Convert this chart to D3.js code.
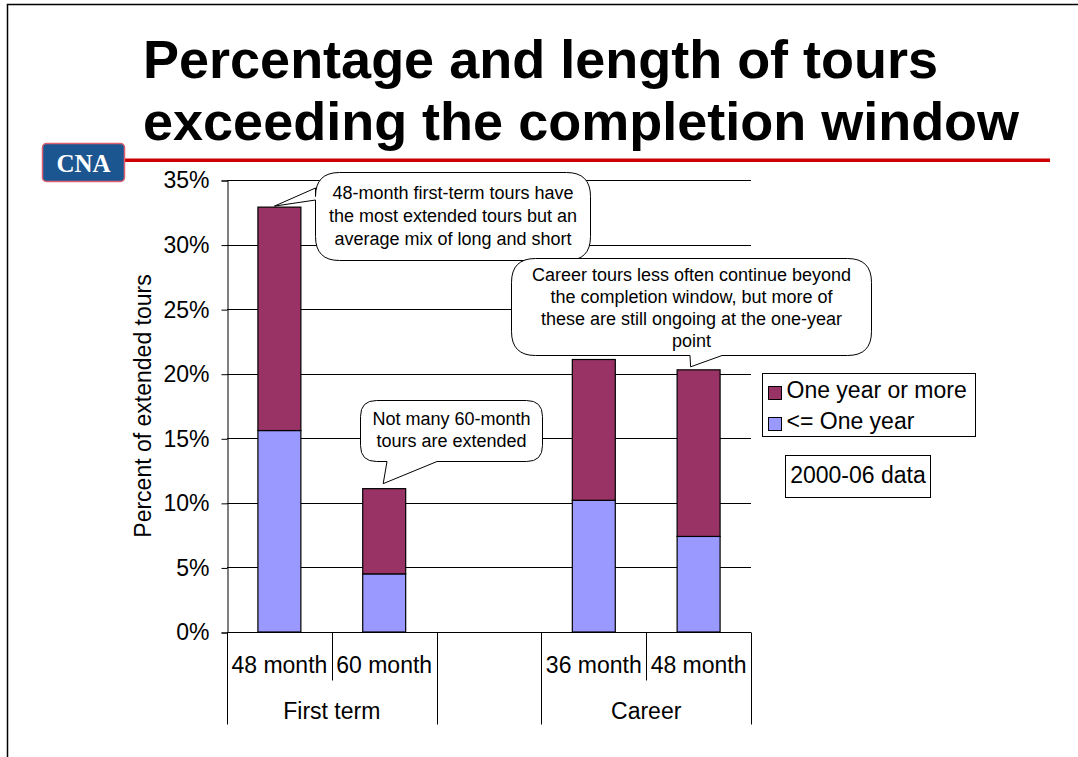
<!DOCTYPE html>
<html>
<head>
<meta charset="utf-8">
<script src="https://cdn.jsdelivr.net/npm/d3@7"></script>
<style>
  body { margin: 0; background: #fff; }
  text { font-family: "Liberation Sans", Arial, sans-serif; }
</style>
</head>
<body>
<div id="chart"></div>
<script>
// Chart data
const slots = ['48 month', '60 month', '', '36 month', '48 month'];
const slotGroup = ['First term', 'First term', '', 'Career', 'Career'];
const groups = ['First term', 'Career'];
const shortTours = [15.6, 4.5, null, 10.2, 7.4];   // "<= One year"
const longTours = [17.3, 6.6, null, 10.9, 12.9];   // "One year or more"
const yTicks = [0, 5, 10, 15, 20, 25, 30, 35];
const seriesNames = ['One year or more', '<= One year'];
const colors = { long: '#993366', short: '#9999ff' };

const W = 1078, H = 757;
const margin = { left: 227, right: 327, top: 180, bottom: 125 };

const svg = d3.select('#chart').append('svg')
  .attr('width', W)
  .attr('height', H);

// page frame
svg.append('path')
  .attr('d', `M7.5,${H} V4.5 H${W}`)
  .attr('fill', 'none')
  .attr('stroke', '#000')
  .attr('stroke-width', 1.5);

// title
const title = svg.append('text')
  .attr('x', 143)
  .attr('font-size', 54)
  .attr('font-weight', 'bold');
title.append('tspan').attr('x', 143).attr('y', 78).text('Percentage and length of tours');
title.append('tspan').attr('x', 143).attr('y', 140).text('exceeding the completion window');

// red rule and logo
svg.append('rect')
  .attr('x', 125).attr('y', 158.5)
  .attr('width', 925).attr('height', 3.5)
  .attr('fill', '#cc0000');
svg.append('rect')
  .attr('x', 42.5).attr('y', 143.5)
  .attr('width', 82).attr('height', 38)
  .attr('rx', 4)
  .attr('fill', '#1c5691')
  .attr('stroke', '#e06070')
  .attr('stroke-width', 1.5);
svg.append('text')
  .attr('x', 83.5).attr('y', 172)
  .attr('text-anchor', 'middle')
  .attr('font-size', 25)
  .attr('font-weight', 'bold')
  .attr('fill', '#fff')
  .style('font-family', '"Liberation Serif", "Times New Roman", serif')
  .text('CNA');

const plotW = W - margin.left - margin.right;
const plotH = H - margin.top - margin.bottom;

const xScale = d3.scaleBand()
  .domain(d3.range(slots.length))
  .range([margin.left, margin.left + plotW]);

const yScale = d3.scaleLinear()
  .domain([0, 35])
  .range([margin.top + plotH, margin.top]);

// gridlines
svg.append('g')
  .selectAll('line')
  .data(yTicks.filter(d => d > 0))
  .join('line')
  .attr('x1', margin.left)
  .attr('x2', margin.left + plotW)
  .attr('y1', d => Math.round(yScale(d)) + 0.5)
  .attr('y2', d => Math.round(yScale(d)) + 0.5)
  .attr('stroke', '#000');

// y axis
const yAxis = d3.axisLeft(yScale)
  .tickValues(yTicks)
  .tickSize(6)
  .tickPadding(12)
  .tickFormat(d => d + '%');
const yAxisG = svg.append('g')
  .attr('transform', `translate(${margin.left + 0.5},0.5)`)
  .call(yAxis);
yAxisG.selectAll('text')
  .attr('font-size', 23)
  .style('font-family', '"Liberation Sans", Arial, sans-serif')
  .attr('fill', '#000');
yAxisG.selectAll('line, path').attr('stroke', '#000');

svg.append('text')
  .attr('transform', `translate(151,${margin.top + plotH / 2}) rotate(-90)`)
  .attr('text-anchor', 'middle')
  .attr('font-size', 23)
  .text('Percent of extended tours');

// bars
const barW = xScale.bandwidth() * 0.41;
const barData = slots.map((s, i) => ({ i, short: shortTours[i], long: longTours[i] }))
  .filter(d => d.short != null);

const barG = svg.append('g');
barG.selectAll('rect.short')
  .data(barData)
  .join('rect')
  .attr('class', 'short')
  .attr('x', d => xScale(d.i) + (xScale.bandwidth() - barW) / 2)
  .attr('width', barW)
  .attr('y', d => yScale(d.short))
  .attr('height', d => yScale(0) - yScale(d.short))
  .attr('fill', colors.short)
  .attr('stroke', '#000')
  .attr('stroke-width', 1.2);
barG.selectAll('rect.long')
  .data(barData)
  .join('rect')
  .attr('class', 'long')
  .attr('x', d => xScale(d.i) + (xScale.bandwidth() - barW) / 2)
  .attr('width', barW)
  .attr('y', d => yScale(d.short + d.long))
  .attr('height', d => yScale(d.short) - yScale(d.short + d.long))
  .attr('fill', colors.long)
  .attr('stroke', '#000')
  .attr('stroke-width', 1.2);

// x axis baseline
const y0 = Math.round(yScale(0)) + 0.5;
svg.append('line')
  .attr('x1', margin.left).attr('x2', margin.left + plotW)
  .attr('y1', y0).attr('y2', y0)
  .attr('stroke', '#000');

// category tick separators: group boundaries long, inner short
const bounds = d3.range(slots.length + 1).map(k => {
  const x = k < slots.length ? xScale(k) : margin.left + plotW;
  const left = slotGroup[k - 1], right = slotGroup[k];
  const inner = left && right && left === right;
  return { x, inner };
});
svg.append('g')
  .selectAll('line')
  .data(bounds)
  .join('line')
  .attr('x1', d => Math.round(d.x) + 0.5)
  .attr('x2', d => Math.round(d.x) + 0.5)
  .attr('y1', y0)
  .attr('y2', d => d.inner ? y0 + 48 : y0 + 92)
  .attr('stroke', '#000');

svg.append('g')
  .selectAll('text')
  .data(slots.map((s, i) => ({ s, i })).filter(d => d.s))
  .join('text')
  .attr('x', d => xScale(d.i) + xScale.bandwidth() / 2)
  .attr('y', y0 + 40)
  .attr('text-anchor', 'middle')
  .attr('font-size', 23)
  .text(d => d.s);

svg.append('g')
  .selectAll('text')
  .data(groups)
  .join('text')
  .attr('x', g => {
    const idx = slotGroup.map((s, i) => s === g ? i : -1).filter(i => i >= 0);
    return (xScale(idx[0]) + xScale(idx[idx.length - 1]) + xScale.bandwidth()) / 2;
  })
  .attr('y', y0 + 86)
  .attr('text-anchor', 'middle')
  .attr('font-size', 23)
  .text(g => g);

// legend
const legend = svg.append('g').attr('transform', 'translate(762.5,373.5)');
legend.append('rect')
  .attr('width', 213).attr('height', 63)
  .attr('fill', '#fff').attr('stroke', '#000');
const legendItems = [
  { name: seriesNames[0], color: colors.long },
  { name: seriesNames[1], color: colors.short }
];
legendItems.forEach((d, k) => {
  legend.append('rect')
    .attr('x', 6).attr('y', 13 + k * 31)
    .attr('width', 13).attr('height', 13)
    .attr('fill', d.color).attr('stroke', '#000');
  legend.append('text')
    .attr('x', 24).attr('y', 24 + k * 31)
    .attr('font-size', 23)
    .text(d.name);
});

svg.append('rect')
  .attr('x', 785.5).attr('y', 455.5)
  .attr('width', 145).attr('height', 42)
  .attr('fill', '#fff').attr('stroke', '#000');
svg.append('text')
  .attr('x', 858).attr('y', 483)
  .attr('text-anchor', 'middle')
  .attr('font-size', 23)
  .text('2000-06 data');

// speech-bubble callouts
function bubblePath(b, tip) {
  const { x, y, w, h, r } = b;
  let p = `M${x + r},${y} H${x + w - r} Q${x + w},${y} ${x + w},${y + r} V${y + h - r} Q${x + w},${y + h} ${x + w - r},${y + h}`;
  if (b.side === 'bottom') {
    p += ` H${b.t1} L${tip[0]},${tip[1]} L${b.t0},${y + h}`;
  }
  p += ` H${x + r} Q${x},${y + h} ${x},${y + h - r}`;
  if (b.side === 'left') {
    p += ` V${b.t1} L${tip[0]},${tip[1]} L${x},${b.t0}`;
  }
  p += ` V${y + r} Q${x},${y} ${x + r},${y} Z`;
  return p;
}

const callouts = [
  {
    box: { x: 315.5, y: 172.5, w: 275, h: 88, r: 24, side: 'left', t0: 188, t1: 200 },
    bar: 0, dx: -5, dy: -1,
    lines: ['48-month first-term tours have', 'the most extended tours but an', 'average mix of long and short'],
    y: 199, step: 23
  },
  {
    box: { x: 360.5, y: 400.5, w: 182, h: 61, r: 16, side: 'bottom', t0: 387, t1: 437 },
    bar: 1, dx: -1, dy: -5,
    lines: ['Not many 60-month', 'tours are extended'],
    y: 425, step: 22
  },
  {
    box: { x: 511.5, y: 258.5, w: 360, h: 97, r: 24, side: 'bottom', t0: 690, t1: 722 },
    bar: 4, dx: -8, dy: -3,
    lines: ['Career tours less often continue beyond', 'the completion window, but more of', 'these are still ongoing at the one-year', 'point'],
    y: 281, step: 22
  }
];

callouts.forEach(c => {
  const i = c.bar;
  const tip = [xScale(i) + xScale.bandwidth() / 2 + c.dx, yScale(shortTours[i] + longTours[i]) + c.dy];
  svg.append('path')
    .attr('d', bubblePath(c.box, tip))
    .attr('fill', '#fff')
    .attr('stroke', '#000')
    .attr('stroke-width', 1);
  const t = svg.append('text')
    .attr('text-anchor', 'middle')
    .attr('font-size', 18);
  c.lines.forEach((l, k) => {
    t.append('tspan')
      .attr('x', c.box.x + c.box.w / 2)
      .attr('y', c.y + k * c.step)
      .text(l);
  });
});
</script>
</body>
</html>
